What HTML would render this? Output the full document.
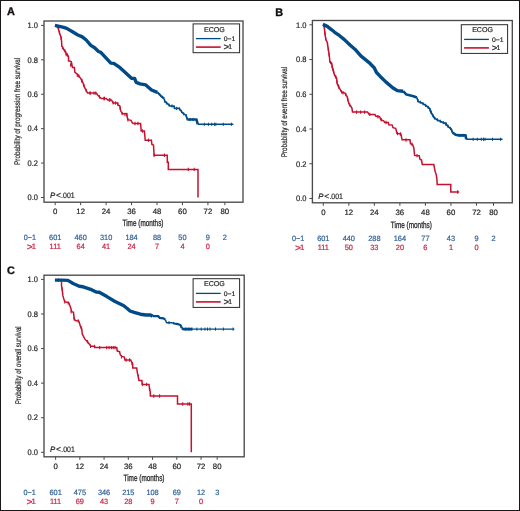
<!DOCTYPE html>
<html><head><meta charset="utf-8"><style>
html,body{margin:0;padding:0;background:#fff;}
svg{display:block;font-family:"Liberation Sans", sans-serif;will-change:transform;text-rendering:geometricPrecision;}
</style></head><body>
<svg width="520" height="511" viewBox="0 0 520 511">
<rect x="0.5" y="0.5" width="519" height="510" fill="#fff" stroke="#1a1618" stroke-width="1"/>
<rect x="44.00" y="21.00" width="199.00" height="181.20" fill="none" stroke="#4a4a4a" stroke-width="1.35"/>
<line x1="41.00" y1="197.50" x2="44.00" y2="197.50" stroke="#4a4a4a" stroke-width="1"/>
<text x="38.00" y="200.25" font-size="8.0" fill="#262626" text-anchor="end" font-weight="normal" font-style="normal" textLength="10.43" lengthAdjust="spacingAndGlyphs"  stroke="#262626" stroke-width="0.2">0.0</text>
<line x1="41.00" y1="163.08" x2="44.00" y2="163.08" stroke="#4a4a4a" stroke-width="1"/>
<text x="38.00" y="165.83" font-size="8.0" fill="#262626" text-anchor="end" font-weight="normal" font-style="normal" textLength="10.43" lengthAdjust="spacingAndGlyphs"  stroke="#262626" stroke-width="0.2">0.2</text>
<line x1="41.00" y1="128.66" x2="44.00" y2="128.66" stroke="#4a4a4a" stroke-width="1"/>
<text x="38.00" y="131.41" font-size="8.0" fill="#262626" text-anchor="end" font-weight="normal" font-style="normal" textLength="10.43" lengthAdjust="spacingAndGlyphs"  stroke="#262626" stroke-width="0.2">0.4</text>
<line x1="41.00" y1="94.24" x2="44.00" y2="94.24" stroke="#4a4a4a" stroke-width="1"/>
<text x="38.00" y="96.99" font-size="8.0" fill="#262626" text-anchor="end" font-weight="normal" font-style="normal" textLength="10.43" lengthAdjust="spacingAndGlyphs"  stroke="#262626" stroke-width="0.2">0.6</text>
<line x1="41.00" y1="59.82" x2="44.00" y2="59.82" stroke="#4a4a4a" stroke-width="1"/>
<text x="38.00" y="62.57" font-size="8.0" fill="#262626" text-anchor="end" font-weight="normal" font-style="normal" textLength="10.43" lengthAdjust="spacingAndGlyphs"  stroke="#262626" stroke-width="0.2">0.8</text>
<line x1="41.00" y1="25.40" x2="44.00" y2="25.40" stroke="#4a4a4a" stroke-width="1"/>
<text x="38.00" y="28.15" font-size="8.0" fill="#262626" text-anchor="end" font-weight="normal" font-style="normal" textLength="10.43" lengthAdjust="spacingAndGlyphs"  stroke="#262626" stroke-width="0.2">1.0</text>
<line x1="55.20" y1="202.20" x2="55.20" y2="205.20" stroke="#4a4a4a" stroke-width="1"/>
<text x="55.20" y="213.60" font-size="7.8" fill="#262626" text-anchor="middle" font-weight="normal" font-style="normal"  stroke="#262626" stroke-width="0.2">0</text>
<line x1="80.65" y1="202.20" x2="80.65" y2="205.20" stroke="#4a4a4a" stroke-width="1"/>
<text x="80.65" y="213.60" font-size="7.8" fill="#262626" text-anchor="middle" font-weight="normal" font-style="normal"  stroke="#262626" stroke-width="0.2">12</text>
<line x1="106.10" y1="202.20" x2="106.10" y2="205.20" stroke="#4a4a4a" stroke-width="1"/>
<text x="106.10" y="213.60" font-size="7.8" fill="#262626" text-anchor="middle" font-weight="normal" font-style="normal"  stroke="#262626" stroke-width="0.2">24</text>
<line x1="131.56" y1="202.20" x2="131.56" y2="205.20" stroke="#4a4a4a" stroke-width="1"/>
<text x="131.56" y="213.60" font-size="7.8" fill="#262626" text-anchor="middle" font-weight="normal" font-style="normal"  stroke="#262626" stroke-width="0.2">36</text>
<line x1="157.01" y1="202.20" x2="157.01" y2="205.20" stroke="#4a4a4a" stroke-width="1"/>
<text x="157.01" y="213.60" font-size="7.8" fill="#262626" text-anchor="middle" font-weight="normal" font-style="normal"  stroke="#262626" stroke-width="0.2">48</text>
<line x1="182.46" y1="202.20" x2="182.46" y2="205.20" stroke="#4a4a4a" stroke-width="1"/>
<text x="182.46" y="213.60" font-size="7.8" fill="#262626" text-anchor="middle" font-weight="normal" font-style="normal"  stroke="#262626" stroke-width="0.2">60</text>
<line x1="207.91" y1="202.20" x2="207.91" y2="205.20" stroke="#4a4a4a" stroke-width="1"/>
<text x="207.91" y="213.60" font-size="7.8" fill="#262626" text-anchor="middle" font-weight="normal" font-style="normal"  stroke="#262626" stroke-width="0.2">72</text>
<line x1="224.88" y1="202.20" x2="224.88" y2="205.20" stroke="#4a4a4a" stroke-width="1"/>
<text x="224.88" y="213.60" font-size="7.8" fill="#262626" text-anchor="middle" font-weight="normal" font-style="normal"  stroke="#262626" stroke-width="0.2">80</text>
<text x="143.00" y="226.40" font-size="9.2" fill="#262626" text-anchor="middle" font-weight="normal" font-style="normal" textLength="41" lengthAdjust="spacingAndGlyphs" stroke="#262626" stroke-width="0.3">Time (months)</text>
<text transform="translate(20.30,111.40) rotate(-90)" x="0" y="0" font-size="8.2" fill="#262626" stroke="#262626" stroke-width="0.2" text-anchor="middle" textLength="107" lengthAdjust="spacingAndGlyphs">Probability of progression free survival</text>
<text y="197.60" font-size="7.9" fill="#262626" stroke="#262626" stroke-width="0.2"><tspan x="49.90" font-style="italic">P</tspan><tspan x="55.90" font-size="8.6">&lt;</tspan></text>
<text x="61.10" y="197.60" font-size="7.9" fill="#262626" stroke="#262626" stroke-width="0.2" textLength="13.5" lengthAdjust="spacingAndGlyphs">.001</text>
<rect x="193.10" y="23.90" width="46.50" height="28.80" fill="#fff" stroke="#2a2a2a" stroke-width="1"/>
<text x="214.40" y="31.60" font-size="7.1" fill="#262626" text-anchor="middle" font-weight="normal" font-style="normal"  stroke="#262626" stroke-width="0.2">ECOG</text>
<line x1="195.90" y1="38.60" x2="220.70" y2="38.60" stroke="#004b87" stroke-width="1.3"/>
<line x1="195.90" y1="47.10" x2="220.70" y2="47.10" stroke="#c8102e" stroke-width="1.6"/>
<text x="223.70" y="40.90" font-size="6.6" fill="#262626" text-anchor="start" font-weight="normal" font-style="normal" textLength="11.6" lengthAdjust="spacingAndGlyphs"  stroke="#262626" stroke-width="0.2">0&#8722;1</text>
<text x="232.00" y="49.40" font-size="6.8" fill="#262626" text-anchor="end" font-weight="normal" font-style="normal"  stroke="#262626" stroke-width="0.2">1</text>
<text x="223.60" y="50.20" font-size="9.6" fill="#262626" text-anchor="start" font-weight="normal" font-style="normal" textLength="5.6" lengthAdjust="spacingAndGlyphs"  stroke="#262626" stroke-width="0.2">&gt;</text>
<text x="6.90" y="14.70" font-size="10.9" fill="#111" text-anchor="start" font-weight="bold" font-style="normal" stroke="#111" stroke-width="0.35">A</text>
<polyline points="55.4,25.4 58.4,27.9 58.8,30.8 59.8,33.7 61.0,37.2 61.6,41.5 61.8,46.3 63.0,47.8 64.2,50.2 65.7,51.7 66.2,54.3 67.3,54.5 68.5,56.8 68.5,60.8 71.2,61.5 72.0,65.8 72.5,67.4 74.4,67.4 74.8,72.1 76.7,73.7 78.3,75.2 80.6,78.4 82.8,82.3 83.8,85.4 85.4,89.2 87.7,93.1 96.2,93.1 97.7,94.9 100.0,97.4 101.5,98.5 106.2,98.5 107.7,100.0 111.5,100.0 113.2,103.1 117.5,103.1 118.1,105.2 119.7,105.8 120.8,111.1 122.4,113.8 126.7,113.8 127.7,119.7 131.0,120.3 132.0,122.4 133.1,123.5 140.6,123.5 141.2,131.0 144.4,131.0 145.2,140.2 151.4,140.2 151.9,144.5 153.5,145.0 154.1,155.3 167.3,155.3 167.3,162.2 168.3,162.2 168.3,169.4 198.0,169.4 198.0,197.5" fill="none" stroke="#c8102e" stroke-width="1.5" stroke-linejoin="miter" stroke-miterlimit="3" stroke-linecap="butt" />
<line x1="154.1" y1="153.6" x2="154.1" y2="157.0" stroke="#c8102e" stroke-width="1.1"/>
<line x1="164.4" y1="153.6" x2="164.4" y2="157.0" stroke="#c8102e" stroke-width="1.1"/>
<line x1="188.3" y1="167.7" x2="188.3" y2="171.1" stroke="#c8102e" stroke-width="1.1"/>
<line x1="194.2" y1="167.7" x2="194.2" y2="171.1" stroke="#c8102e" stroke-width="1.1"/>
<line x1="90.0" y1="91.4" x2="90.0" y2="94.8" stroke="#c8102e" stroke-width="1.1"/>
<line x1="94.0" y1="91.4" x2="94.0" y2="94.8" stroke="#c8102e" stroke-width="1.1"/>
<line x1="104.0" y1="96.8" x2="104.0" y2="100.2" stroke="#c8102e" stroke-width="1.1"/>
<line x1="110.0" y1="98.3" x2="110.0" y2="101.7" stroke="#c8102e" stroke-width="1.1"/>
<line x1="115.5" y1="101.3" x2="115.5" y2="104.7" stroke="#c8102e" stroke-width="1.1"/>
<line x1="125.0" y1="112.8" x2="125.0" y2="116.2" stroke="#c8102e" stroke-width="1.1"/>
<line x1="135.0" y1="121.8" x2="135.0" y2="125.2" stroke="#c8102e" stroke-width="1.1"/>
<line x1="138.0" y1="121.8" x2="138.0" y2="125.2" stroke="#c8102e" stroke-width="1.1"/>
<line x1="142.5" y1="129.3" x2="142.5" y2="132.7" stroke="#c8102e" stroke-width="1.1"/>
<line x1="148.5" y1="138.5" x2="148.5" y2="141.9" stroke="#c8102e" stroke-width="1.1"/>
<line x1="62.6" y1="45.9" x2="62.6" y2="49.3" stroke="#c8102e" stroke-width="1.1"/>
<line x1="66.2" y1="52.8" x2="66.2" y2="56.2" stroke="#c8102e" stroke-width="1.1"/>
<line x1="70.6" y1="63.3" x2="70.6" y2="66.7" stroke="#c8102e" stroke-width="1.1"/>
<line x1="77.3" y1="73.5" x2="77.3" y2="76.9" stroke="#c8102e" stroke-width="1.1"/>
<line x1="81.8" y1="79.0" x2="81.8" y2="82.4" stroke="#c8102e" stroke-width="1.1"/>
<line x1="58.1" y1="25.9" x2="58.1" y2="29.3" stroke="#c8102e" stroke-width="1.1"/>
<line x1="59.5" y1="31.1" x2="59.5" y2="34.5" stroke="#c8102e" stroke-width="1.1"/>
<line x1="61.1" y1="36.4" x2="61.1" y2="39.8" stroke="#c8102e" stroke-width="1.1"/>
<line x1="64.8" y1="49.1" x2="64.8" y2="52.5" stroke="#c8102e" stroke-width="1.1"/>
<line x1="67.5" y1="53.3" x2="67.5" y2="56.7" stroke="#c8102e" stroke-width="1.1"/>
<line x1="71.7" y1="62.5" x2="71.7" y2="65.9" stroke="#c8102e" stroke-width="1.1"/>
<line x1="78.8" y1="74.2" x2="78.8" y2="77.6" stroke="#c8102e" stroke-width="1.1"/>
<line x1="81.8" y1="78.8" x2="81.8" y2="82.2" stroke="#c8102e" stroke-width="1.1"/>
<line x1="83.9" y1="83.8" x2="83.9" y2="87.2" stroke="#c8102e" stroke-width="1.1"/>
<line x1="86.2" y1="88.8" x2="86.2" y2="92.2" stroke="#c8102e" stroke-width="1.1"/>
<line x1="90.2" y1="91.4" x2="90.2" y2="94.8" stroke="#c8102e" stroke-width="1.1"/>
<line x1="95.7" y1="91.4" x2="95.7" y2="94.8" stroke="#c8102e" stroke-width="1.1"/>
<line x1="99.5" y1="95.2" x2="99.5" y2="98.6" stroke="#c8102e" stroke-width="1.1"/>
<line x1="104.4" y1="96.8" x2="104.4" y2="100.2" stroke="#c8102e" stroke-width="1.1"/>
<line x1="109.3" y1="98.3" x2="109.3" y2="101.7" stroke="#c8102e" stroke-width="1.1"/>
<line x1="113.1" y1="101.2" x2="113.1" y2="104.6" stroke="#c8102e" stroke-width="1.1"/>
<line x1="117.8" y1="102.3" x2="117.8" y2="105.7" stroke="#c8102e" stroke-width="1.1"/>
<line x1="120.2" y1="106.6" x2="120.2" y2="110.0" stroke="#c8102e" stroke-width="1.1"/>
<line x1="122.1" y1="111.7" x2="122.1" y2="115.1" stroke="#c8102e" stroke-width="1.1"/>
<line x1="126.8" y1="112.8" x2="126.8" y2="116.2" stroke="#c8102e" stroke-width="1.1"/>
<line x1="127.9" y1="118.0" x2="127.9" y2="121.4" stroke="#c8102e" stroke-width="1.1"/>
<polyline points="54.9,25.4 63.7,27.4 66.7,28.4 72.5,31.8 77.4,34.7 82.3,36.9 86.2,40.0 90.8,45.4 94.6,47.7 98.5,51.5 100.8,52.3 110.8,63.1 113.8,63.4 120.0,67.7 125.0,72.2 131.5,78.3 134.6,78.5 136.2,82.3 140.0,83.8 145.8,84.9 151.5,90.0 157.3,92.3" fill="none" stroke="#004b87" stroke-width="3.4" stroke-linejoin="round" stroke-miterlimit="3" stroke-linecap="butt" />
<polyline points="157.3,92.3 160.8,95.8 164.2,98.6" fill="none" stroke="#004b87" stroke-width="2.2" stroke-linejoin="round" stroke-miterlimit="3" stroke-linecap="butt" />
<polyline points="164.2,98.6 164.8,101.5 167.7,103.8 170.0,105.9 174.0,106.1 174.6,108.4 179.2,108.4 181.0,110.8 182.7,113.1 186.1,115.4 187.3,119.5" fill="none" stroke="#004b87" stroke-width="1.6" stroke-linejoin="round" stroke-miterlimit="3" stroke-linecap="butt" />
<polyline points="187.3,119.5 196.5,119.5 197.7,124.3" fill="none" stroke="#004b87" stroke-width="2.6" stroke-linejoin="round" stroke-miterlimit="3" stroke-linecap="butt" />
<polyline points="197.7,124.3 233.3,124.3" fill="none" stroke="#004b87" stroke-width="1.4" stroke-linejoin="round" stroke-miterlimit="3" stroke-linecap="butt" />
<line x1="204.3" y1="122.7" x2="204.3" y2="125.9" stroke="#004b87" stroke-width="1.0"/>
<line x1="208.4" y1="122.7" x2="208.4" y2="125.9" stroke="#004b87" stroke-width="1.0"/>
<line x1="211.7" y1="122.7" x2="211.7" y2="125.9" stroke="#004b87" stroke-width="1.0"/>
<line x1="214.4" y1="122.7" x2="214.4" y2="125.9" stroke="#004b87" stroke-width="1.0"/>
<line x1="215.8" y1="122.7" x2="215.8" y2="125.9" stroke="#004b87" stroke-width="1.0"/>
<line x1="223.3" y1="122.7" x2="223.3" y2="125.9" stroke="#004b87" stroke-width="1.0"/>
<line x1="231.4" y1="122.7" x2="231.4" y2="125.9" stroke="#004b87" stroke-width="1.0"/>
<line x1="190.0" y1="117.9" x2="190.0" y2="121.1" stroke="#004b87" stroke-width="1.0"/>
<line x1="193.0" y1="117.9" x2="193.0" y2="121.1" stroke="#004b87" stroke-width="1.0"/>
<line x1="164.6" y1="99.2" x2="164.6" y2="102.4" stroke="#004b87" stroke-width="1.0"/>
<line x1="166.7" y1="101.4" x2="166.7" y2="104.6" stroke="#004b87" stroke-width="1.0"/>
<line x1="169.1" y1="103.5" x2="169.1" y2="106.7" stroke="#004b87" stroke-width="1.0"/>
<line x1="172.0" y1="104.4" x2="172.0" y2="107.6" stroke="#004b87" stroke-width="1.0"/>
<line x1="174.3" y1="105.7" x2="174.3" y2="108.9" stroke="#004b87" stroke-width="1.0"/>
<line x1="176.6" y1="106.8" x2="176.6" y2="110.0" stroke="#004b87" stroke-width="1.0"/>
<line x1="179.6" y1="107.3" x2="179.6" y2="110.5" stroke="#004b87" stroke-width="1.0"/>
<line x1="181.5" y1="109.9" x2="181.5" y2="113.1" stroke="#004b87" stroke-width="1.0"/>
<line x1="183.7" y1="112.2" x2="183.7" y2="115.4" stroke="#004b87" stroke-width="1.0"/>
<line x1="186.2" y1="114.1" x2="186.2" y2="117.3" stroke="#004b87" stroke-width="1.0"/>
<line x1="187.1" y1="117.1" x2="187.1" y2="120.3" stroke="#004b87" stroke-width="1.0"/>
<text x="36.00" y="240.00" font-size="7.7" fill="#2d5f98" text-anchor="end" font-weight="normal" font-style="normal" textLength="12.3" lengthAdjust="spacingAndGlyphs"  stroke="#2d5f98" stroke-width="0.2">0&#8722;1</text>
<text x="36.00" y="249.30" font-size="7.7" fill="#cc2244" text-anchor="end" font-weight="normal" font-style="normal"  stroke="#cc2244" stroke-width="0.2">1</text>
<text x="26.70" y="249.90" font-size="9.6" fill="#cc2244" text-anchor="start" font-weight="normal" font-style="normal" textLength="6.0" lengthAdjust="spacingAndGlyphs"  stroke="#cc2244" stroke-width="0.2">&gt;</text>
<text x="55.20" y="240.00" font-size="7.7" fill="#2d5f98" text-anchor="middle" font-weight="normal" font-style="normal" textLength="12.35" lengthAdjust="spacingAndGlyphs"  stroke="#2d5f98" stroke-width="0.2">601</text>
<text x="55.20" y="249.30" font-size="7.7" fill="#cc2244" text-anchor="middle" font-weight="normal" font-style="normal" textLength="11.25" lengthAdjust="spacingAndGlyphs"  stroke="#cc2244" stroke-width="0.2">111</text>
<text x="80.65" y="240.00" font-size="7.7" fill="#2d5f98" text-anchor="middle" font-weight="normal" font-style="normal" textLength="12.35" lengthAdjust="spacingAndGlyphs"  stroke="#2d5f98" stroke-width="0.2">460</text>
<text x="80.65" y="249.30" font-size="7.7" fill="#cc2244" text-anchor="middle" font-weight="normal" font-style="normal" textLength="8.23" lengthAdjust="spacingAndGlyphs"  stroke="#cc2244" stroke-width="0.2">64</text>
<text x="106.10" y="240.00" font-size="7.7" fill="#2d5f98" text-anchor="middle" font-weight="normal" font-style="normal" textLength="12.35" lengthAdjust="spacingAndGlyphs"  stroke="#2d5f98" stroke-width="0.2">310</text>
<text x="106.10" y="249.30" font-size="7.7" fill="#cc2244" text-anchor="middle" font-weight="normal" font-style="normal" textLength="8.23" lengthAdjust="spacingAndGlyphs"  stroke="#cc2244" stroke-width="0.2">41</text>
<text x="131.56" y="240.00" font-size="7.7" fill="#2d5f98" text-anchor="middle" font-weight="normal" font-style="normal" textLength="12.35" lengthAdjust="spacingAndGlyphs"  stroke="#2d5f98" stroke-width="0.2">184</text>
<text x="131.56" y="249.30" font-size="7.7" fill="#cc2244" text-anchor="middle" font-weight="normal" font-style="normal" textLength="8.23" lengthAdjust="spacingAndGlyphs"  stroke="#cc2244" stroke-width="0.2">24</text>
<text x="157.01" y="240.00" font-size="7.7" fill="#2d5f98" text-anchor="middle" font-weight="normal" font-style="normal" textLength="8.23" lengthAdjust="spacingAndGlyphs"  stroke="#2d5f98" stroke-width="0.2">88</text>
<text x="157.01" y="249.30" font-size="7.7" fill="#cc2244" text-anchor="middle" font-weight="normal" font-style="normal" textLength="4.12" lengthAdjust="spacingAndGlyphs"  stroke="#cc2244" stroke-width="0.2">7</text>
<text x="182.46" y="240.00" font-size="7.7" fill="#2d5f98" text-anchor="middle" font-weight="normal" font-style="normal" textLength="8.23" lengthAdjust="spacingAndGlyphs"  stroke="#2d5f98" stroke-width="0.2">50</text>
<text x="182.46" y="249.30" font-size="7.7" fill="#cc2244" text-anchor="middle" font-weight="normal" font-style="normal" textLength="4.12" lengthAdjust="spacingAndGlyphs"  stroke="#cc2244" stroke-width="0.2">4</text>
<text x="207.91" y="240.00" font-size="7.7" fill="#2d5f98" text-anchor="middle" font-weight="normal" font-style="normal" textLength="4.12" lengthAdjust="spacingAndGlyphs"  stroke="#2d5f98" stroke-width="0.2">9</text>
<text x="207.91" y="249.30" font-size="7.7" fill="#cc2244" text-anchor="middle" font-weight="normal" font-style="normal" textLength="4.12" lengthAdjust="spacingAndGlyphs"  stroke="#cc2244" stroke-width="0.2">0</text>
<text x="224.88" y="240.00" font-size="7.7" fill="#2d5f98" text-anchor="middle" font-weight="normal" font-style="normal" textLength="4.12" lengthAdjust="spacingAndGlyphs"  stroke="#2d5f98" stroke-width="0.2">2</text>
<rect x="312.40" y="20.50" width="199.90" height="182.30" fill="none" stroke="#4a4a4a" stroke-width="1.35"/>
<line x1="309.40" y1="198.50" x2="312.40" y2="198.50" stroke="#4a4a4a" stroke-width="1"/>
<text x="306.40" y="201.25" font-size="8.0" fill="#262626" text-anchor="end" font-weight="normal" font-style="normal" textLength="10.43" lengthAdjust="spacingAndGlyphs"  stroke="#262626" stroke-width="0.2">0.0</text>
<line x1="309.40" y1="163.76" x2="312.40" y2="163.76" stroke="#4a4a4a" stroke-width="1"/>
<text x="306.40" y="166.51" font-size="8.0" fill="#262626" text-anchor="end" font-weight="normal" font-style="normal" textLength="10.43" lengthAdjust="spacingAndGlyphs"  stroke="#262626" stroke-width="0.2">0.2</text>
<line x1="309.40" y1="129.02" x2="312.40" y2="129.02" stroke="#4a4a4a" stroke-width="1"/>
<text x="306.40" y="131.77" font-size="8.0" fill="#262626" text-anchor="end" font-weight="normal" font-style="normal" textLength="10.43" lengthAdjust="spacingAndGlyphs"  stroke="#262626" stroke-width="0.2">0.4</text>
<line x1="309.40" y1="94.28" x2="312.40" y2="94.28" stroke="#4a4a4a" stroke-width="1"/>
<text x="306.40" y="97.03" font-size="8.0" fill="#262626" text-anchor="end" font-weight="normal" font-style="normal" textLength="10.43" lengthAdjust="spacingAndGlyphs"  stroke="#262626" stroke-width="0.2">0.6</text>
<line x1="309.40" y1="59.54" x2="312.40" y2="59.54" stroke="#4a4a4a" stroke-width="1"/>
<text x="306.40" y="62.29" font-size="8.0" fill="#262626" text-anchor="end" font-weight="normal" font-style="normal" textLength="10.43" lengthAdjust="spacingAndGlyphs"  stroke="#262626" stroke-width="0.2">0.8</text>
<line x1="309.40" y1="24.80" x2="312.40" y2="24.80" stroke="#4a4a4a" stroke-width="1"/>
<text x="306.40" y="27.55" font-size="8.0" fill="#262626" text-anchor="end" font-weight="normal" font-style="normal" textLength="10.43" lengthAdjust="spacingAndGlyphs"  stroke="#262626" stroke-width="0.2">1.0</text>
<line x1="323.30" y1="202.80" x2="323.30" y2="205.80" stroke="#4a4a4a" stroke-width="1"/>
<text x="323.30" y="214.60" font-size="7.8" fill="#262626" text-anchor="middle" font-weight="normal" font-style="normal"  stroke="#262626" stroke-width="0.2">0</text>
<line x1="348.83" y1="202.80" x2="348.83" y2="205.80" stroke="#4a4a4a" stroke-width="1"/>
<text x="348.83" y="214.60" font-size="7.8" fill="#262626" text-anchor="middle" font-weight="normal" font-style="normal"  stroke="#262626" stroke-width="0.2">12</text>
<line x1="374.36" y1="202.80" x2="374.36" y2="205.80" stroke="#4a4a4a" stroke-width="1"/>
<text x="374.36" y="214.60" font-size="7.8" fill="#262626" text-anchor="middle" font-weight="normal" font-style="normal"  stroke="#262626" stroke-width="0.2">24</text>
<line x1="399.89" y1="202.80" x2="399.89" y2="205.80" stroke="#4a4a4a" stroke-width="1"/>
<text x="399.89" y="214.60" font-size="7.8" fill="#262626" text-anchor="middle" font-weight="normal" font-style="normal"  stroke="#262626" stroke-width="0.2">36</text>
<line x1="425.42" y1="202.80" x2="425.42" y2="205.80" stroke="#4a4a4a" stroke-width="1"/>
<text x="425.42" y="214.60" font-size="7.8" fill="#262626" text-anchor="middle" font-weight="normal" font-style="normal"  stroke="#262626" stroke-width="0.2">48</text>
<line x1="450.95" y1="202.80" x2="450.95" y2="205.80" stroke="#4a4a4a" stroke-width="1"/>
<text x="450.95" y="214.60" font-size="7.8" fill="#262626" text-anchor="middle" font-weight="normal" font-style="normal"  stroke="#262626" stroke-width="0.2">60</text>
<line x1="476.48" y1="202.80" x2="476.48" y2="205.80" stroke="#4a4a4a" stroke-width="1"/>
<text x="476.48" y="214.60" font-size="7.8" fill="#262626" text-anchor="middle" font-weight="normal" font-style="normal"  stroke="#262626" stroke-width="0.2">72</text>
<line x1="493.50" y1="202.80" x2="493.50" y2="205.80" stroke="#4a4a4a" stroke-width="1"/>
<text x="493.50" y="214.60" font-size="7.8" fill="#262626" text-anchor="middle" font-weight="normal" font-style="normal"  stroke="#262626" stroke-width="0.2">80</text>
<text x="411.30" y="227.70" font-size="9.2" fill="#262626" text-anchor="middle" font-weight="normal" font-style="normal" textLength="41" lengthAdjust="spacingAndGlyphs" stroke="#262626" stroke-width="0.3">Time (months)</text>
<text transform="translate(286.60,112.10) rotate(-90)" x="0" y="0" font-size="8.2" fill="#262626" stroke="#262626" stroke-width="0.2" text-anchor="middle" textLength="90.4" lengthAdjust="spacingAndGlyphs">Probability of event free survival</text>
<text y="198.60" font-size="7.9" fill="#262626" stroke="#262626" stroke-width="0.2"><tspan x="318.20" font-style="italic">P</tspan><tspan x="324.20" font-size="8.6">&lt;</tspan></text>
<text x="329.40" y="198.60" font-size="7.9" fill="#262626" stroke="#262626" stroke-width="0.2" textLength="13.5" lengthAdjust="spacingAndGlyphs">.001</text>
<rect x="461.30" y="24.70" width="46.30" height="28.70" fill="#fff" stroke="#2a2a2a" stroke-width="1"/>
<text x="482.60" y="32.40" font-size="7.1" fill="#262626" text-anchor="middle" font-weight="normal" font-style="normal"  stroke="#262626" stroke-width="0.2">ECOG</text>
<line x1="464.10" y1="39.40" x2="488.90" y2="39.40" stroke="#004b87" stroke-width="1.3"/>
<line x1="464.10" y1="47.90" x2="488.90" y2="47.90" stroke="#c8102e" stroke-width="1.6"/>
<text x="491.90" y="41.70" font-size="6.6" fill="#262626" text-anchor="start" font-weight="normal" font-style="normal" textLength="11.6" lengthAdjust="spacingAndGlyphs"  stroke="#262626" stroke-width="0.2">0&#8722;1</text>
<text x="500.20" y="50.20" font-size="6.8" fill="#262626" text-anchor="end" font-weight="normal" font-style="normal"  stroke="#262626" stroke-width="0.2">1</text>
<text x="491.80" y="51.00" font-size="9.6" fill="#262626" text-anchor="start" font-weight="normal" font-style="normal" textLength="5.6" lengthAdjust="spacingAndGlyphs"  stroke="#262626" stroke-width="0.2">&gt;</text>
<text x="275.30" y="15.60" font-size="10.9" fill="#111" text-anchor="start" font-weight="bold" font-style="normal" stroke="#111" stroke-width="0.35">B</text>
<polyline points="323.4,24.4 324.4,27.9 324.9,33.7 325.9,39.6 327.3,42.5 328.0,47.4 328.8,52.3 329.6,58.2 329.8,62.1 331.7,63.1 332.2,67.0 333.7,72.0 334.6,75.4 336.5,77.7 337.2,83.8 339.5,88.5 341.8,92.3 344.9,93.1 347.2,96.9 347.9,100.0 349.0,104.0 350.8,106.3 351.9,108.1 352.5,112.1 367.5,112.1 369.2,114.4 375.0,114.4 375.6,116.1 379.6,116.7 380.8,119.6 383.6,120.8 384.8,122.5 388.3,122.5 388.8,124.8 392.3,125.1 392.9,127.7 395.7,128.3 396.9,133.4 400.9,134.0 402.1,139.8 410.0,139.8 410.5,143.8 412.6,144.6 413.8,147.7 414.6,155.4 419.2,155.8 420.0,159.2 421.5,160.0 422.3,164.6 433.8,164.6 435.1,171.2 436.2,174.6 436.9,178.9 437.2,184.6 450.8,184.6 450.8,192.0 459.2,192.0" fill="none" stroke="#c8102e" stroke-width="1.5" stroke-linejoin="miter" stroke-miterlimit="3" stroke-linecap="butt" />
<line x1="457.7" y1="190.3" x2="457.7" y2="193.7" stroke="#c8102e" stroke-width="1.1"/>
<line x1="330.6" y1="60.9" x2="330.6" y2="64.3" stroke="#c8102e" stroke-width="1.1"/>
<line x1="333.0" y1="67.8" x2="333.0" y2="71.2" stroke="#c8102e" stroke-width="1.1"/>
<line x1="335.5" y1="74.8" x2="335.5" y2="78.2" stroke="#c8102e" stroke-width="1.1"/>
<line x1="338.4" y1="84.3" x2="338.4" y2="87.7" stroke="#c8102e" stroke-width="1.1"/>
<line x1="343.0" y1="91.0" x2="343.0" y2="94.4" stroke="#c8102e" stroke-width="1.1"/>
<line x1="356.5" y1="110.4" x2="356.5" y2="113.8" stroke="#c8102e" stroke-width="1.1"/>
<line x1="360.6" y1="110.4" x2="360.6" y2="113.8" stroke="#c8102e" stroke-width="1.1"/>
<line x1="364.6" y1="110.4" x2="364.6" y2="113.8" stroke="#c8102e" stroke-width="1.1"/>
<line x1="369.8" y1="112.7" x2="369.8" y2="116.1" stroke="#c8102e" stroke-width="1.1"/>
<line x1="377.9" y1="115.0" x2="377.9" y2="118.4" stroke="#c8102e" stroke-width="1.1"/>
<line x1="381.3" y1="118.1" x2="381.3" y2="121.5" stroke="#c8102e" stroke-width="1.1"/>
<line x1="386.0" y1="120.8" x2="386.0" y2="124.2" stroke="#c8102e" stroke-width="1.1"/>
<line x1="397.5" y1="131.8" x2="397.5" y2="135.2" stroke="#c8102e" stroke-width="1.1"/>
<line x1="400.4" y1="132.3" x2="400.4" y2="135.7" stroke="#c8102e" stroke-width="1.1"/>
<line x1="406.0" y1="138.3" x2="406.0" y2="141.7" stroke="#c8102e" stroke-width="1.1"/>
<line x1="412.0" y1="142.6" x2="412.0" y2="146.0" stroke="#c8102e" stroke-width="1.1"/>
<line x1="417.0" y1="153.9" x2="417.0" y2="157.3" stroke="#c8102e" stroke-width="1.1"/>
<line x1="324.4" y1="26.1" x2="324.4" y2="29.5" stroke="#c8102e" stroke-width="1.1"/>
<line x1="324.9" y1="31.5" x2="324.9" y2="34.9" stroke="#c8102e" stroke-width="1.1"/>
<line x1="325.7" y1="37.0" x2="325.7" y2="40.4" stroke="#c8102e" stroke-width="1.1"/>
<line x1="327.5" y1="42.1" x2="327.5" y2="45.5" stroke="#c8102e" stroke-width="1.1"/>
<line x1="328.3" y1="47.6" x2="328.3" y2="51.0" stroke="#c8102e" stroke-width="1.1"/>
<line x1="329.1" y1="53.0" x2="329.1" y2="56.4" stroke="#c8102e" stroke-width="1.1"/>
<line x1="332.1" y1="64.7" x2="332.1" y2="68.1" stroke="#c8102e" stroke-width="1.1"/>
<line x1="333.6" y1="70.0" x2="333.6" y2="73.4" stroke="#c8102e" stroke-width="1.1"/>
<line x1="335.7" y1="75.0" x2="335.7" y2="78.4" stroke="#c8102e" stroke-width="1.1"/>
<line x1="337.0" y1="80.2" x2="337.0" y2="83.6" stroke="#c8102e" stroke-width="1.1"/>
<line x1="338.8" y1="85.3" x2="338.8" y2="88.7" stroke="#c8102e" stroke-width="1.1"/>
<line x1="341.5" y1="90.1" x2="341.5" y2="93.5" stroke="#c8102e" stroke-width="1.1"/>
<line x1="345.8" y1="92.8" x2="345.8" y2="96.2" stroke="#c8102e" stroke-width="1.1"/>
<line x1="347.8" y1="97.9" x2="347.8" y2="101.3" stroke="#c8102e" stroke-width="1.1"/>
<line x1="349.6" y1="103.0" x2="349.6" y2="106.4" stroke="#c8102e" stroke-width="1.1"/>
<polyline points="322.9,24.4 327.3,26.4 331.7,29.8 334.7,32.3 339.6,35.7 344.4,39.6 350.0,45.0 354.9,49.2 361.1,56.2 368.8,62.3 374.2,67.7 376.5,72.5 380.0,76.2 385.8,81.9 392.7,87.7 397.3,90.6 403.1,91.2" fill="none" stroke="#004b87" stroke-width="3.4" stroke-linejoin="round" stroke-miterlimit="3" stroke-linecap="butt" />
<polyline points="403.1,91.2 406.5,94.6 413.5,96.3 416.9,97.5" fill="none" stroke="#004b87" stroke-width="2.6" stroke-linejoin="round" stroke-miterlimit="3" stroke-linecap="butt" />
<polyline points="416.9,97.5 418.1,101.5 421.5,102.7 426.1,105.6 429.6,108.5 430.8,111.9 434.2,117.7 436.5,119.4 439.2,120.8 442.3,122.3 445.4,123.4 448.5,126.9 451.2,129.0 452.5,132.5" fill="none" stroke="#004b87" stroke-width="1.7" stroke-linejoin="round" stroke-miterlimit="3" stroke-linecap="butt" />
<polyline points="452.5,132.5 455.6,134.8 458.8,135.4 465.6,135.4 466.2,139.3" fill="none" stroke="#004b87" stroke-width="2.6" stroke-linejoin="round" stroke-miterlimit="3" stroke-linecap="butt" />
<polyline points="466.2,139.3 502.5,139.3" fill="none" stroke="#004b87" stroke-width="1.4" stroke-linejoin="round" stroke-miterlimit="3" stroke-linecap="butt" />
<line x1="473.1" y1="137.7" x2="473.1" y2="140.9" stroke="#004b87" stroke-width="1.0"/>
<line x1="477.3" y1="137.7" x2="477.3" y2="140.9" stroke="#004b87" stroke-width="1.0"/>
<line x1="481.3" y1="137.7" x2="481.3" y2="140.9" stroke="#004b87" stroke-width="1.0"/>
<line x1="483.5" y1="137.7" x2="483.5" y2="140.9" stroke="#004b87" stroke-width="1.0"/>
<line x1="485.0" y1="137.7" x2="485.0" y2="140.9" stroke="#004b87" stroke-width="1.0"/>
<line x1="492.5" y1="137.7" x2="492.5" y2="140.9" stroke="#004b87" stroke-width="1.0"/>
<line x1="500.6" y1="137.7" x2="500.6" y2="140.9" stroke="#004b87" stroke-width="1.0"/>
<line x1="460.0" y1="133.8" x2="460.0" y2="137.0" stroke="#004b87" stroke-width="1.0"/>
<line x1="463.0" y1="133.8" x2="463.0" y2="137.0" stroke="#004b87" stroke-width="1.0"/>
<line x1="418.0" y1="99.2" x2="418.0" y2="102.4" stroke="#004b87" stroke-width="1.0"/>
<line x1="431.0" y1="110.4" x2="431.0" y2="113.6" stroke="#004b87" stroke-width="1.0"/>
<line x1="446.0" y1="122.4" x2="446.0" y2="125.6" stroke="#004b87" stroke-width="1.0"/>
<line x1="420.2" y1="100.6" x2="420.2" y2="103.8" stroke="#004b87" stroke-width="1.0"/>
<line x1="423.0" y1="102.1" x2="423.0" y2="105.3" stroke="#004b87" stroke-width="1.0"/>
<line x1="425.7" y1="103.8" x2="425.7" y2="107.0" stroke="#004b87" stroke-width="1.0"/>
<line x1="428.2" y1="105.8" x2="428.2" y2="109.0" stroke="#004b87" stroke-width="1.0"/>
<line x1="430.1" y1="108.2" x2="430.1" y2="111.4" stroke="#004b87" stroke-width="1.0"/>
<line x1="431.3" y1="111.2" x2="431.3" y2="114.4" stroke="#004b87" stroke-width="1.0"/>
<line x1="432.9" y1="113.9" x2="432.9" y2="117.1" stroke="#004b87" stroke-width="1.0"/>
<line x1="434.7" y1="116.5" x2="434.7" y2="119.7" stroke="#004b87" stroke-width="1.0"/>
<line x1="437.4" y1="118.3" x2="437.4" y2="121.5" stroke="#004b87" stroke-width="1.0"/>
<line x1="440.3" y1="119.7" x2="440.3" y2="122.9" stroke="#004b87" stroke-width="1.0"/>
<line x1="443.2" y1="121.0" x2="443.2" y2="124.2" stroke="#004b87" stroke-width="1.0"/>
<line x1="446.0" y1="122.4" x2="446.0" y2="125.6" stroke="#004b87" stroke-width="1.0"/>
<line x1="448.1" y1="124.8" x2="448.1" y2="128.0" stroke="#004b87" stroke-width="1.0"/>
<line x1="450.5" y1="126.9" x2="450.5" y2="130.1" stroke="#004b87" stroke-width="1.0"/>
<line x1="452.0" y1="129.6" x2="452.0" y2="132.8" stroke="#004b87" stroke-width="1.0"/>
<text x="304.20" y="240.60" font-size="7.7" fill="#2d5f98" text-anchor="end" font-weight="normal" font-style="normal" textLength="12.3" lengthAdjust="spacingAndGlyphs"  stroke="#2d5f98" stroke-width="0.2">0&#8722;1</text>
<text x="304.20" y="250.30" font-size="7.7" fill="#cc2244" text-anchor="end" font-weight="normal" font-style="normal"  stroke="#cc2244" stroke-width="0.2">1</text>
<text x="294.90" y="250.90" font-size="9.6" fill="#cc2244" text-anchor="start" font-weight="normal" font-style="normal" textLength="6.0" lengthAdjust="spacingAndGlyphs"  stroke="#cc2244" stroke-width="0.2">&gt;</text>
<text x="323.30" y="240.60" font-size="7.7" fill="#2d5f98" text-anchor="middle" font-weight="normal" font-style="normal" textLength="12.35" lengthAdjust="spacingAndGlyphs"  stroke="#2d5f98" stroke-width="0.2">601</text>
<text x="323.30" y="250.30" font-size="7.7" fill="#cc2244" text-anchor="middle" font-weight="normal" font-style="normal" textLength="11.25" lengthAdjust="spacingAndGlyphs"  stroke="#cc2244" stroke-width="0.2">111</text>
<text x="348.83" y="240.60" font-size="7.7" fill="#2d5f98" text-anchor="middle" font-weight="normal" font-style="normal" textLength="12.35" lengthAdjust="spacingAndGlyphs"  stroke="#2d5f98" stroke-width="0.2">440</text>
<text x="348.83" y="250.30" font-size="7.7" fill="#cc2244" text-anchor="middle" font-weight="normal" font-style="normal" textLength="8.23" lengthAdjust="spacingAndGlyphs"  stroke="#cc2244" stroke-width="0.2">50</text>
<text x="374.36" y="240.60" font-size="7.7" fill="#2d5f98" text-anchor="middle" font-weight="normal" font-style="normal" textLength="12.35" lengthAdjust="spacingAndGlyphs"  stroke="#2d5f98" stroke-width="0.2">288</text>
<text x="374.36" y="250.30" font-size="7.7" fill="#cc2244" text-anchor="middle" font-weight="normal" font-style="normal" textLength="8.23" lengthAdjust="spacingAndGlyphs"  stroke="#cc2244" stroke-width="0.2">33</text>
<text x="399.89" y="240.60" font-size="7.7" fill="#2d5f98" text-anchor="middle" font-weight="normal" font-style="normal" textLength="12.35" lengthAdjust="spacingAndGlyphs"  stroke="#2d5f98" stroke-width="0.2">164</text>
<text x="399.89" y="250.30" font-size="7.7" fill="#cc2244" text-anchor="middle" font-weight="normal" font-style="normal" textLength="8.23" lengthAdjust="spacingAndGlyphs"  stroke="#cc2244" stroke-width="0.2">20</text>
<text x="425.42" y="240.60" font-size="7.7" fill="#2d5f98" text-anchor="middle" font-weight="normal" font-style="normal" textLength="8.23" lengthAdjust="spacingAndGlyphs"  stroke="#2d5f98" stroke-width="0.2">77</text>
<text x="425.42" y="250.30" font-size="7.7" fill="#cc2244" text-anchor="middle" font-weight="normal" font-style="normal" textLength="4.12" lengthAdjust="spacingAndGlyphs"  stroke="#cc2244" stroke-width="0.2">6</text>
<text x="450.95" y="240.60" font-size="7.7" fill="#2d5f98" text-anchor="middle" font-weight="normal" font-style="normal" textLength="8.23" lengthAdjust="spacingAndGlyphs"  stroke="#2d5f98" stroke-width="0.2">43</text>
<text x="450.95" y="250.30" font-size="7.7" fill="#cc2244" text-anchor="middle" font-weight="normal" font-style="normal" textLength="4.12" lengthAdjust="spacingAndGlyphs"  stroke="#cc2244" stroke-width="0.2">1</text>
<text x="476.48" y="240.60" font-size="7.7" fill="#2d5f98" text-anchor="middle" font-weight="normal" font-style="normal" textLength="4.12" lengthAdjust="spacingAndGlyphs"  stroke="#2d5f98" stroke-width="0.2">9</text>
<text x="476.48" y="250.30" font-size="7.7" fill="#cc2244" text-anchor="middle" font-weight="normal" font-style="normal" textLength="4.12" lengthAdjust="spacingAndGlyphs"  stroke="#cc2244" stroke-width="0.2">0</text>
<text x="493.50" y="240.60" font-size="7.7" fill="#2d5f98" text-anchor="middle" font-weight="normal" font-style="normal" textLength="4.12" lengthAdjust="spacingAndGlyphs"  stroke="#2d5f98" stroke-width="0.2">2</text>
<rect x="44.00" y="275.20" width="200.20" height="181.60" fill="none" stroke="#4a4a4a" stroke-width="1.35"/>
<line x1="41.00" y1="452.30" x2="44.00" y2="452.30" stroke="#4a4a4a" stroke-width="1"/>
<text x="38.00" y="455.05" font-size="8.0" fill="#262626" text-anchor="end" font-weight="normal" font-style="normal" textLength="10.43" lengthAdjust="spacingAndGlyphs"  stroke="#262626" stroke-width="0.2">0.0</text>
<line x1="41.00" y1="417.72" x2="44.00" y2="417.72" stroke="#4a4a4a" stroke-width="1"/>
<text x="38.00" y="420.47" font-size="8.0" fill="#262626" text-anchor="end" font-weight="normal" font-style="normal" textLength="10.43" lengthAdjust="spacingAndGlyphs"  stroke="#262626" stroke-width="0.2">0.2</text>
<line x1="41.00" y1="383.14" x2="44.00" y2="383.14" stroke="#4a4a4a" stroke-width="1"/>
<text x="38.00" y="385.89" font-size="8.0" fill="#262626" text-anchor="end" font-weight="normal" font-style="normal" textLength="10.43" lengthAdjust="spacingAndGlyphs"  stroke="#262626" stroke-width="0.2">0.4</text>
<line x1="41.00" y1="348.56" x2="44.00" y2="348.56" stroke="#4a4a4a" stroke-width="1"/>
<text x="38.00" y="351.31" font-size="8.0" fill="#262626" text-anchor="end" font-weight="normal" font-style="normal" textLength="10.43" lengthAdjust="spacingAndGlyphs"  stroke="#262626" stroke-width="0.2">0.6</text>
<line x1="41.00" y1="313.98" x2="44.00" y2="313.98" stroke="#4a4a4a" stroke-width="1"/>
<text x="38.00" y="316.73" font-size="8.0" fill="#262626" text-anchor="end" font-weight="normal" font-style="normal" textLength="10.43" lengthAdjust="spacingAndGlyphs"  stroke="#262626" stroke-width="0.2">0.8</text>
<line x1="41.00" y1="279.40" x2="44.00" y2="279.40" stroke="#4a4a4a" stroke-width="1"/>
<text x="38.00" y="282.15" font-size="8.0" fill="#262626" text-anchor="end" font-weight="normal" font-style="normal" textLength="10.43" lengthAdjust="spacingAndGlyphs"  stroke="#262626" stroke-width="0.2">1.0</text>
<line x1="55.60" y1="456.80" x2="55.60" y2="459.80" stroke="#4a4a4a" stroke-width="1"/>
<text x="55.60" y="468.50" font-size="7.8" fill="#262626" text-anchor="middle" font-weight="normal" font-style="normal"  stroke="#262626" stroke-width="0.2">0</text>
<line x1="79.84" y1="456.80" x2="79.84" y2="459.80" stroke="#4a4a4a" stroke-width="1"/>
<text x="79.84" y="468.50" font-size="7.8" fill="#262626" text-anchor="middle" font-weight="normal" font-style="normal"  stroke="#262626" stroke-width="0.2">12</text>
<line x1="104.08" y1="456.80" x2="104.08" y2="459.80" stroke="#4a4a4a" stroke-width="1"/>
<text x="104.08" y="468.50" font-size="7.8" fill="#262626" text-anchor="middle" font-weight="normal" font-style="normal"  stroke="#262626" stroke-width="0.2">24</text>
<line x1="128.32" y1="456.80" x2="128.32" y2="459.80" stroke="#4a4a4a" stroke-width="1"/>
<text x="128.32" y="468.50" font-size="7.8" fill="#262626" text-anchor="middle" font-weight="normal" font-style="normal"  stroke="#262626" stroke-width="0.2">36</text>
<line x1="152.56" y1="456.80" x2="152.56" y2="459.80" stroke="#4a4a4a" stroke-width="1"/>
<text x="152.56" y="468.50" font-size="7.8" fill="#262626" text-anchor="middle" font-weight="normal" font-style="normal"  stroke="#262626" stroke-width="0.2">48</text>
<line x1="176.80" y1="456.80" x2="176.80" y2="459.80" stroke="#4a4a4a" stroke-width="1"/>
<text x="176.80" y="468.50" font-size="7.8" fill="#262626" text-anchor="middle" font-weight="normal" font-style="normal"  stroke="#262626" stroke-width="0.2">60</text>
<line x1="201.04" y1="456.80" x2="201.04" y2="459.80" stroke="#4a4a4a" stroke-width="1"/>
<text x="201.04" y="468.50" font-size="7.8" fill="#262626" text-anchor="middle" font-weight="normal" font-style="normal"  stroke="#262626" stroke-width="0.2">72</text>
<line x1="217.20" y1="456.80" x2="217.20" y2="459.80" stroke="#4a4a4a" stroke-width="1"/>
<text x="217.20" y="468.50" font-size="7.8" fill="#262626" text-anchor="middle" font-weight="normal" font-style="normal"  stroke="#262626" stroke-width="0.2">80</text>
<text x="144.00" y="481.40" font-size="9.2" fill="#262626" text-anchor="middle" font-weight="normal" font-style="normal" textLength="41" lengthAdjust="spacingAndGlyphs" stroke="#262626" stroke-width="0.3">Time (months)</text>
<text transform="translate(21.00,365.30) rotate(-90)" x="0" y="0" font-size="8.2" fill="#262626" stroke="#262626" stroke-width="0.2" text-anchor="middle" textLength="78" lengthAdjust="spacingAndGlyphs">Probability of overall survival</text>
<text y="452.40" font-size="7.9" fill="#262626" stroke="#262626" stroke-width="0.2"><tspan x="50.10" font-style="italic">P</tspan><tspan x="56.10" font-size="8.6">&lt;</tspan></text>
<text x="61.30" y="452.40" font-size="7.9" fill="#262626" stroke="#262626" stroke-width="0.2" textLength="13.5" lengthAdjust="spacingAndGlyphs">.001</text>
<rect x="193.10" y="278.70" width="46.50" height="28.70" fill="#fff" stroke="#2a2a2a" stroke-width="1"/>
<text x="214.40" y="286.40" font-size="7.1" fill="#262626" text-anchor="middle" font-weight="normal" font-style="normal"  stroke="#262626" stroke-width="0.2">ECOG</text>
<line x1="195.90" y1="293.40" x2="220.70" y2="293.40" stroke="#004b87" stroke-width="1.3"/>
<line x1="195.90" y1="301.90" x2="220.70" y2="301.90" stroke="#c8102e" stroke-width="1.6"/>
<text x="223.70" y="295.70" font-size="6.6" fill="#262626" text-anchor="start" font-weight="normal" font-style="normal" textLength="11.6" lengthAdjust="spacingAndGlyphs"  stroke="#262626" stroke-width="0.2">0&#8722;1</text>
<text x="232.00" y="304.20" font-size="6.8" fill="#262626" text-anchor="end" font-weight="normal" font-style="normal"  stroke="#262626" stroke-width="0.2">1</text>
<text x="223.60" y="305.00" font-size="9.6" fill="#262626" text-anchor="start" font-weight="normal" font-style="normal" textLength="5.6" lengthAdjust="spacingAndGlyphs"  stroke="#262626" stroke-width="0.2">&gt;</text>
<text x="7.00" y="274.10" font-size="10.9" fill="#111" text-anchor="start" font-weight="bold" font-style="normal" stroke="#111" stroke-width="0.35">C</text>
<polyline points="55.0,280.1 61.5,280.1 61.5,285.5 62.4,291.3 62.9,295.9 64.7,301.7 68.8,302.9 70.6,307.6 71.7,311.7 73.5,312.3 74.1,318.2 75.3,320.5 78.8,321.1 80.5,326.4 81.7,328.7 82.3,334.0 84.6,338.7 88.2,342.8 91.1,346.3 94.0,346.3 95.8,347.6 116.7,347.6 117.3,351.1 119.6,351.7 120.2,354.7 122.0,356.4 124.3,357.0 124.9,360.0 130.8,360.0 131.4,361.7 132.6,363.5 132.8,367.9 136.7,367.9 137.3,372.3 138.2,376.4 139.0,380.5 141.9,380.5 142.2,384.4 149.0,384.4 149.6,389.3 150.2,391.6 150.4,396.0 177.5,396.0 177.5,404.0 191.3,404.0 191.3,452.3" fill="none" stroke="#c8102e" stroke-width="1.5" stroke-linejoin="miter" stroke-miterlimit="3" stroke-linecap="butt" />
<line x1="153.8" y1="394.3" x2="153.8" y2="397.7" stroke="#c8102e" stroke-width="1.1"/>
<line x1="159.6" y1="394.3" x2="159.6" y2="397.7" stroke="#c8102e" stroke-width="1.1"/>
<line x1="182.7" y1="402.3" x2="182.7" y2="405.7" stroke="#c8102e" stroke-width="1.1"/>
<line x1="187.9" y1="402.3" x2="187.9" y2="405.7" stroke="#c8102e" stroke-width="1.1"/>
<line x1="189.6" y1="402.3" x2="189.6" y2="405.7" stroke="#c8102e" stroke-width="1.1"/>
<line x1="62.2" y1="287.3" x2="62.2" y2="290.7" stroke="#c8102e" stroke-width="1.1"/>
<line x1="64.7" y1="300.0" x2="64.7" y2="303.4" stroke="#c8102e" stroke-width="1.1"/>
<line x1="68.2" y1="301.2" x2="68.2" y2="304.6" stroke="#c8102e" stroke-width="1.1"/>
<line x1="71.1" y1="310.0" x2="71.1" y2="313.4" stroke="#c8102e" stroke-width="1.1"/>
<line x1="74.1" y1="317.0" x2="74.1" y2="320.4" stroke="#c8102e" stroke-width="1.1"/>
<line x1="78.2" y1="319.2" x2="78.2" y2="322.6" stroke="#c8102e" stroke-width="1.1"/>
<line x1="81.1" y1="325.9" x2="81.1" y2="329.3" stroke="#c8102e" stroke-width="1.1"/>
<line x1="87.6" y1="339.9" x2="87.6" y2="343.3" stroke="#c8102e" stroke-width="1.1"/>
<line x1="90.5" y1="344.6" x2="90.5" y2="348.0" stroke="#c8102e" stroke-width="1.1"/>
<line x1="94.6" y1="344.8" x2="94.6" y2="348.2" stroke="#c8102e" stroke-width="1.1"/>
<line x1="99.7" y1="345.9" x2="99.7" y2="349.3" stroke="#c8102e" stroke-width="1.1"/>
<line x1="106.7" y1="345.9" x2="106.7" y2="349.3" stroke="#c8102e" stroke-width="1.1"/>
<line x1="109.1" y1="345.9" x2="109.1" y2="349.3" stroke="#c8102e" stroke-width="1.1"/>
<line x1="111.4" y1="345.9" x2="111.4" y2="349.3" stroke="#c8102e" stroke-width="1.1"/>
<line x1="113.2" y1="345.9" x2="113.2" y2="349.3" stroke="#c8102e" stroke-width="1.1"/>
<line x1="115.0" y1="345.9" x2="115.0" y2="349.3" stroke="#c8102e" stroke-width="1.1"/>
<line x1="121.4" y1="355.1" x2="121.4" y2="358.5" stroke="#c8102e" stroke-width="1.1"/>
<line x1="126.1" y1="358.3" x2="126.1" y2="361.7" stroke="#c8102e" stroke-width="1.1"/>
<line x1="129.6" y1="358.3" x2="129.6" y2="361.7" stroke="#c8102e" stroke-width="1.1"/>
<line x1="132.0" y1="361.8" x2="132.0" y2="365.2" stroke="#c8102e" stroke-width="1.1"/>
<line x1="138.4" y1="374.7" x2="138.4" y2="378.1" stroke="#c8102e" stroke-width="1.1"/>
<line x1="142.5" y1="382.7" x2="142.5" y2="386.1" stroke="#c8102e" stroke-width="1.1"/>
<line x1="146.6" y1="382.7" x2="146.6" y2="386.1" stroke="#c8102e" stroke-width="1.1"/>
<line x1="149.6" y1="387.6" x2="149.6" y2="391.0" stroke="#c8102e" stroke-width="1.1"/>
<line x1="58.5" y1="278.4" x2="58.5" y2="281.8" stroke="#c8102e" stroke-width="1.1"/>
<polyline points="54.9,280.1 61.5,280.1 67.9,280.4 73.1,283.5 79.2,286.2 83.1,286.8 91.5,289.7 96.2,292.0 99.2,292.3 106.9,296.6 114.6,301.2 123.8,305.8 127.5,308.8 130.0,311.0 134.2,312.4 140.4,314.2 145.8,315.0 150.4,315.0 152.7,316.1" fill="none" stroke="#004b87" stroke-width="3.4" stroke-linejoin="round" stroke-miterlimit="3" stroke-linecap="butt" />
<polyline points="152.7,316.1 158.1,316.1 159.6,317.8 163.5,318.4 165.3,319.6" fill="none" stroke="#004b87" stroke-width="2.3" stroke-linejoin="round" stroke-miterlimit="3" stroke-linecap="butt" />
<polyline points="165.3,319.6 166.5,322.7 172.7,322.7" fill="none" stroke="#004b87" stroke-width="1.4" stroke-linejoin="round" stroke-miterlimit="3" stroke-linecap="butt" />
<polyline points="172.7,322.7 174.2,323.5 178.1,324.2 180.4,325.0 181.9,328.3" fill="none" stroke="#004b87" stroke-width="2.2" stroke-linejoin="round" stroke-miterlimit="3" stroke-linecap="butt" />
<polyline points="181.9,328.3 183.5,329.1 192.0,329.1" fill="none" stroke="#004b87" stroke-width="2.6" stroke-linejoin="round" stroke-miterlimit="3" stroke-linecap="butt" />
<polyline points="192.0,329.1 234.4,329.1" fill="none" stroke="#004b87" stroke-width="1.4" stroke-linejoin="round" stroke-miterlimit="3" stroke-linecap="butt" />
<line x1="196.9" y1="327.5" x2="196.9" y2="330.7" stroke="#004b87" stroke-width="1.0"/>
<line x1="201.2" y1="327.5" x2="201.2" y2="330.7" stroke="#004b87" stroke-width="1.0"/>
<line x1="205.0" y1="327.5" x2="205.0" y2="330.7" stroke="#004b87" stroke-width="1.0"/>
<line x1="207.5" y1="327.5" x2="207.5" y2="330.7" stroke="#004b87" stroke-width="1.0"/>
<line x1="210.0" y1="327.5" x2="210.0" y2="330.7" stroke="#004b87" stroke-width="1.0"/>
<line x1="215.5" y1="327.5" x2="215.5" y2="330.7" stroke="#004b87" stroke-width="1.0"/>
<line x1="223.4" y1="327.5" x2="223.4" y2="330.7" stroke="#004b87" stroke-width="1.0"/>
<line x1="233.1" y1="327.5" x2="233.1" y2="330.7" stroke="#004b87" stroke-width="1.0"/>
<line x1="186.0" y1="327.5" x2="186.0" y2="330.7" stroke="#004b87" stroke-width="1.0"/>
<line x1="189.0" y1="327.5" x2="189.0" y2="330.7" stroke="#004b87" stroke-width="1.0"/>
<line x1="192.0" y1="327.5" x2="192.0" y2="330.7" stroke="#004b87" stroke-width="1.0"/>
<line x1="169.0" y1="321.1" x2="169.0" y2="324.3" stroke="#004b87" stroke-width="1.0"/>
<text x="35.90" y="495.10" font-size="7.7" fill="#2d5f98" text-anchor="end" font-weight="normal" font-style="normal" textLength="12.3" lengthAdjust="spacingAndGlyphs"  stroke="#2d5f98" stroke-width="0.2">0&#8722;1</text>
<text x="35.90" y="504.40" font-size="7.7" fill="#cc2244" text-anchor="end" font-weight="normal" font-style="normal"  stroke="#cc2244" stroke-width="0.2">1</text>
<text x="26.60" y="505.00" font-size="9.6" fill="#cc2244" text-anchor="start" font-weight="normal" font-style="normal" textLength="6.0" lengthAdjust="spacingAndGlyphs"  stroke="#cc2244" stroke-width="0.2">&gt;</text>
<text x="55.60" y="495.10" font-size="7.7" fill="#2d5f98" text-anchor="middle" font-weight="normal" font-style="normal" textLength="12.35" lengthAdjust="spacingAndGlyphs"  stroke="#2d5f98" stroke-width="0.2">601</text>
<text x="55.60" y="504.40" font-size="7.7" fill="#cc2244" text-anchor="middle" font-weight="normal" font-style="normal" textLength="11.25" lengthAdjust="spacingAndGlyphs"  stroke="#cc2244" stroke-width="0.2">111</text>
<text x="79.84" y="495.10" font-size="7.7" fill="#2d5f98" text-anchor="middle" font-weight="normal" font-style="normal" textLength="12.35" lengthAdjust="spacingAndGlyphs"  stroke="#2d5f98" stroke-width="0.2">475</text>
<text x="79.84" y="504.40" font-size="7.7" fill="#cc2244" text-anchor="middle" font-weight="normal" font-style="normal" textLength="8.23" lengthAdjust="spacingAndGlyphs"  stroke="#cc2244" stroke-width="0.2">69</text>
<text x="104.08" y="495.10" font-size="7.7" fill="#2d5f98" text-anchor="middle" font-weight="normal" font-style="normal" textLength="12.35" lengthAdjust="spacingAndGlyphs"  stroke="#2d5f98" stroke-width="0.2">346</text>
<text x="104.08" y="504.40" font-size="7.7" fill="#cc2244" text-anchor="middle" font-weight="normal" font-style="normal" textLength="8.23" lengthAdjust="spacingAndGlyphs"  stroke="#cc2244" stroke-width="0.2">43</text>
<text x="128.32" y="495.10" font-size="7.7" fill="#2d5f98" text-anchor="middle" font-weight="normal" font-style="normal" textLength="12.35" lengthAdjust="spacingAndGlyphs"  stroke="#2d5f98" stroke-width="0.2">215</text>
<text x="128.32" y="504.40" font-size="7.7" fill="#cc2244" text-anchor="middle" font-weight="normal" font-style="normal" textLength="8.23" lengthAdjust="spacingAndGlyphs"  stroke="#cc2244" stroke-width="0.2">28</text>
<text x="152.56" y="495.10" font-size="7.7" fill="#2d5f98" text-anchor="middle" font-weight="normal" font-style="normal" textLength="12.35" lengthAdjust="spacingAndGlyphs"  stroke="#2d5f98" stroke-width="0.2">108</text>
<text x="152.56" y="504.40" font-size="7.7" fill="#cc2244" text-anchor="middle" font-weight="normal" font-style="normal" textLength="4.12" lengthAdjust="spacingAndGlyphs"  stroke="#cc2244" stroke-width="0.2">9</text>
<text x="176.80" y="495.10" font-size="7.7" fill="#2d5f98" text-anchor="middle" font-weight="normal" font-style="normal" textLength="8.23" lengthAdjust="spacingAndGlyphs"  stroke="#2d5f98" stroke-width="0.2">69</text>
<text x="176.80" y="504.40" font-size="7.7" fill="#cc2244" text-anchor="middle" font-weight="normal" font-style="normal" textLength="4.12" lengthAdjust="spacingAndGlyphs"  stroke="#cc2244" stroke-width="0.2">7</text>
<text x="201.04" y="495.10" font-size="7.7" fill="#2d5f98" text-anchor="middle" font-weight="normal" font-style="normal" textLength="8.23" lengthAdjust="spacingAndGlyphs"  stroke="#2d5f98" stroke-width="0.2">12</text>
<text x="201.04" y="504.40" font-size="7.7" fill="#cc2244" text-anchor="middle" font-weight="normal" font-style="normal" textLength="4.12" lengthAdjust="spacingAndGlyphs"  stroke="#cc2244" stroke-width="0.2">0</text>
<text x="217.20" y="495.10" font-size="7.7" fill="#2d5f98" text-anchor="middle" font-weight="normal" font-style="normal" textLength="4.12" lengthAdjust="spacingAndGlyphs"  stroke="#2d5f98" stroke-width="0.2">3</text>
</svg>
</body></html>
